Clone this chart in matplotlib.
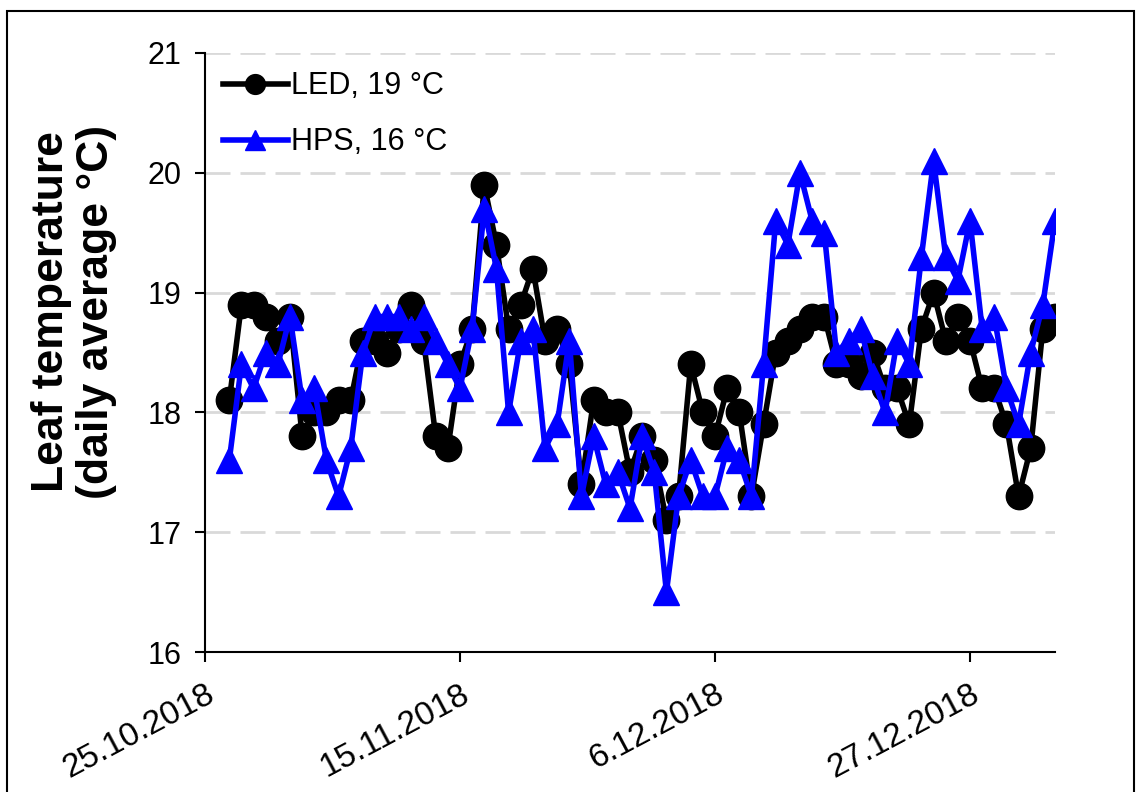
import pandas as pd
import numpy as np
import matplotlib
matplotlib.use('Agg')
import matplotlib.pyplot as plt
import matplotlib.transforms as mtransforms
from matplotlib.patches import Rectangle

plt.rcParams['font.family'] = ['Liberation Sans', 'DejaVu Sans']

# daily leaf temperature (daily average, °C), one value per day from 27.10.2018
first_day = '2018-10-27'
led = [18.1, 18.9, 18.9, 18.8, 18.6, 18.8, 17.8, 18.0, 18.0, 18.1,
       18.1, 18.6, 18.6, 18.5, 18.7, 18.9, 18.6, 17.8, 17.7, 18.4,
       18.7, 19.9, 19.4, 18.7, 18.9, 19.2, 18.6, 18.7, 18.4, 17.4,
       18.1, 18.0, 18.0, 17.5, 17.8, 17.6, 17.1, 17.3, 18.4, 18.0,
       17.8, 18.2, 18.0, 17.3, 17.9, 18.5, 18.6, 18.7, 18.8, 18.8,
       18.4, 18.4, 18.3, 18.5, 18.2, 18.2, 17.9, 18.7, 19.0, 18.6,
       18.8, 18.6, 18.2, 18.2, 17.9, 17.3, 17.7, 18.7, 18.8]
hps = [17.6, 18.4, 18.2, 18.5, 18.4, 18.8, 18.1, 18.2, 17.6, 17.3,
       17.7, 18.5, 18.8, 18.8, 18.8, 18.7, 18.8, 18.6, 18.4, 18.2,
       18.7, 19.7, 19.2, 18.0, 18.6, 18.7, 17.7, 17.9, 18.6, 17.3,
       17.8, 17.4, 17.5, 17.2, 17.8, 17.5, 16.5, 17.3, 17.6, 17.3,
       17.3, 17.7, 17.6, 17.3, 18.4, 19.6, 19.4, 20.0, 19.6, 19.5,
       18.5, 18.6, 18.7, 18.3, 18.0, 18.6, 18.4, 19.3, 20.1, 19.3,
       19.1, 19.6, 18.7, 18.8, 18.2, 17.9, 18.5, 18.9, 19.6]
series_labels = ['LED, 19 °C', 'HPS, 16 °C']

tick_dates = ['2018-10-25', '2018-11-15', '2018-12-06', '2018-12-27']
tick_labels = ['25.10.2018', '15.11.2018', '6.12.2018', '27.12.2018']
x_range = ['2018-10-25', '2019-01-03']
y_ticks = [16, 17, 18, 19, 20, 21]

dates = pd.date_range(first_day, periods=len(led), freq='D')

fig = plt.figure(figsize=(11.38, 7.92), dpi=100)
ax = fig.add_axes([205/1138, 1 - 652/792, 850/1138, 599/792])

ax.plot(dates, led, color='black', lw=4, marker='o', ms=19, mew=1,
        label=series_labels[0], zorder=3)
ax.plot(dates, hps, color='#0000ff', lw=4, marker='^', ms=19, mew=1,
        label=series_labels[1], zorder=4)

ax.set_xlim(pd.Timestamp(x_range[0]), pd.Timestamp(x_range[1]))
ax.set_ylim(16, 21)
ax.set_yticks(y_ticks)
ax.set_xticks([pd.Timestamp(d) for d in tick_dates])
ax.set_xticklabels(tick_labels, rotation=28, ha='right', va='top',
                   rotation_mode='anchor')
offset = mtransforms.ScaledTranslation(8/100, 0, fig.dpi_scale_trans)
for lbl in ax.get_xticklabels():
    lbl.set_transform(lbl.get_transform() + offset)

ax.set_axisbelow(True)
ax.yaxis.grid(True, color='#d9d9d9', lw=2, linestyle=(0, (9, 3.6)))
for s in ['top', 'right']:
    ax.spines[s].set_visible(False)
for s in ['left', 'bottom']:
    ax.spines[s].set_linewidth(1.5)
ax.tick_params(axis='y', length=7, width=1.5, pad=10, labelsize=22)
ax.tick_params(axis='x', length=7, width=1.5, pad=12, labelsize=24)

ax.legend(loc='upper left', frameon=False, fontsize=22, markerscale=0.75,
          handlelength=2.1, handletextpad=0.1, labelspacing=0.85,
          borderaxespad=0.3, borderpad=0.3, bbox_to_anchor=(0.0, 1.0))

fig.text(74/1138, 1 - 312/792, 'Leaf temperature\n(daily average °C)',
         rotation=90, ha='center', va='center', multialignment='center',
         fontsize=32, fontweight='bold', linespacing=1.1)

fig.patches.append(Rectangle((7/1138, -0.05), (1134 - 7)/1138, 1.05 - 11/792,
                             transform=fig.transFigure, fill=False,
                             ec='black', lw=1.5, clip_on=False))

fig.savefig('out.png', dpi=100)
